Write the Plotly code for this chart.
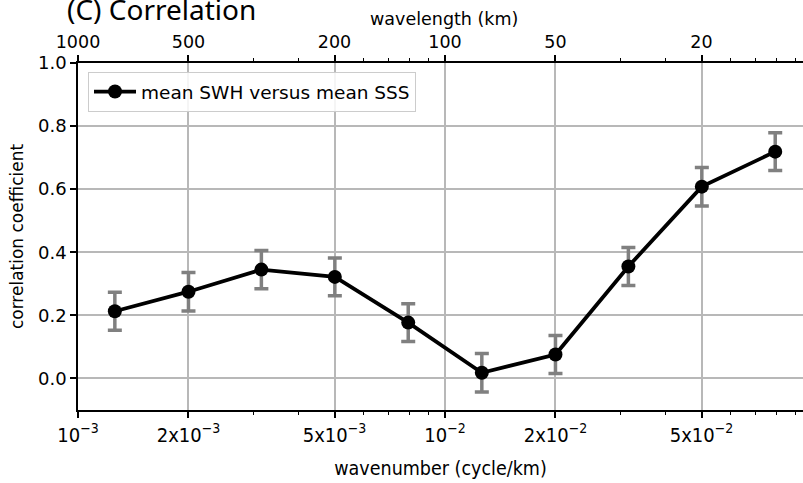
import plotly.graph_objects as go

# Wavenumber bands (cycle/km) and correlation between mean SWH and mean SSS
wavenumber = [0.00126, 0.00200, 0.00316, 0.00501, 0.00794,
              0.0126, 0.0200, 0.0316, 0.0501, 0.0794]
corr = [0.213, 0.275, 0.345, 0.322, 0.177, 0.018, 0.076, 0.355, 0.608, 0.719]
corr_err = [0.06, 0.061, 0.061, 0.06, 0.06, 0.061, 0.06, 0.06, 0.061, 0.06]

# Axis ticks
x_major = [0.001, 0.002, 0.005, 0.01, 0.02, 0.05]
x_major_text = ["10<sup>\u22123</sup>", "2x10<sup>\u22123</sup>", "5x10<sup>\u22123</sup>",
                "10<sup>\u22122</sup>", "2x10<sup>\u22122</sup>", "5x10<sup>\u22122</sup>"]
x_minor = [0.003, 0.004, 0.006, 0.007, 0.008, 0.009,
           0.03, 0.04, 0.06, 0.07, 0.08, 0.09]
wavelength_text = ["1000", "500", "200", "100", "50", "20"]
y_ticks = [0.0, 0.2, 0.4, 0.6, 0.8, 1.0]
y_tick_text = ["0.0", "0.2", "0.4", "0.6", "0.8", "1.0"]

X_RANGE = [-3, -1.0245]
GRID = "#b8b8b8"
FONT = "DejaVu Sans"
COND = "DejaVu Sans Condensed, DejaVu Sans"

fig = go.Figure()
fig.add_trace(go.Scatter(
    x=wavenumber, y=corr,
    mode="lines+markers",
    name="mean SWH versus mean SSS",
    line=dict(color="black", width=3.8),
    marker=dict(color="black", size=14),
    error_y=dict(type="data", array=corr_err, color="#808080", thickness=3.5, width=7),
))
# companion trace so the wavelength axis on top is laid out
fig.add_trace(go.Scatter(
    x=wavenumber, y=corr, xaxis="x2", mode="markers",
    marker=dict(opacity=0), showlegend=False, hoverinfo="skip",
))

fig.update_layout(
    width=803, height=483,
    margin=dict(l=78, r=0, t=63, b=73),
    paper_bgcolor="white", plot_bgcolor="white",
    font=dict(family=FONT, size=17, color="black"),
    showlegend=True,
    legend=dict(
        x=0.0138, y=0.974, xanchor="left", yanchor="top",
        bgcolor="rgba(255,255,255,0.85)", bordercolor="#cccccc", borderwidth=1,
        font=dict(family=FONT, size=18.5), itemwidth=42,
    ),
    xaxis=dict(
        type="log", range=X_RANGE,
        tickmode="array", tickvals=x_major, ticktext=x_major_text,
        tickfont=dict(family=COND, size=20),
        ticks="outside", ticklen=6, tickwidth=1.5, tickcolor="black",
        showline=True, linecolor="black", linewidth=1.5,
        showgrid=True, gridcolor=GRID, gridwidth=1.5,
        zeroline=False,
        minor=dict(tickmode="array", tickvals=x_minor, ticks="outside",
                   ticklen=3.5, tickwidth=1, tickcolor="black", showgrid=False),
        title=dict(text="wavenumber (cycle/km)", font=dict(family=COND, size=19.5), standoff=16),
    ),
    xaxis2=dict(
        type="log", range=X_RANGE, overlaying="x", side="top", anchor="y",
        tickmode="array", tickvals=x_major, ticktext=wavelength_text,
        tickfont=dict(family=FONT, size=17.5),
        ticks="outside", ticklen=6, tickwidth=1.5, tickcolor="black",
        showline=True, linecolor="black", linewidth=1.5,
        showgrid=False, zeroline=False,
        minor=dict(tickmode="array", tickvals=x_minor, ticks="outside",
                   ticklen=3.5, tickwidth=1, tickcolor="black", showgrid=False),
    ),
    yaxis=dict(
        range=[-0.1, 1.0],
        tickmode="array", tickvals=y_ticks, ticktext=y_tick_text,
        tickfont=dict(family=FONT, size=18),
        ticks="outside", ticklen=6, tickwidth=1.5, tickcolor="black",
        showline=True, linecolor="black", linewidth=1.5,
        showgrid=True, gridcolor=GRID, gridwidth=1.5,
        zeroline=False,
        title=dict(text="correlation coefficient", font=dict(family=FONT, size=17), standoff=10),
    ),
    annotations=[
        dict(text="wavelength (km)", xref="paper", yref="paper",
             x=0.5048, y=1.127, xanchor="center", yanchor="middle",
             showarrow=False, font=dict(family=FONT, size=17.5)),
        dict(text="(C) Correlation", xref="paper", yref="paper",
             x=-0.0179, y=1.215, xanchor="left", yanchor="top",
             showarrow=False, font=dict(family="Noto Sans", size=28)),
    ],
)

fig.write_html("out.html")
